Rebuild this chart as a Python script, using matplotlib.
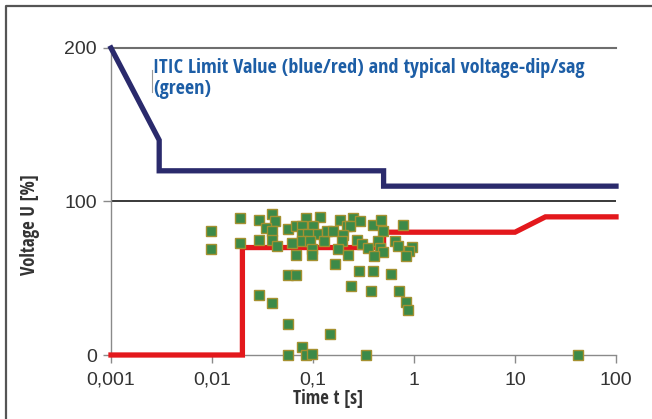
import matplotlib
matplotlib.use("Agg")
import matplotlib.pyplot as plt
from matplotlib.lines import Line2D
from matplotlib import font_manager as fm

# ITIC limit curves
blue_t = [0.001, 0.003, 0.003, 0.5, 0.5, 100]
blue_u = [200, 140, 120, 120, 110, 110]
red_t = [0.001, 0.02, 0.02, 0.5, 0.5, 10, 20, 100]
red_u = [0, 0, 70, 70, 80, 80, 90, 90]

# typical voltage dips/sags
sag_t = [0.0097, 0.0097, 0.019, 0.019, 0.029, 0.029, 0.039, 0.042, 0.034, 0.039,
         0.039, 0.044, 0.057, 0.068, 0.062, 0.068, 0.057, 0.068, 0.029, 0.039,
         0.057, 0.077, 0.057, 0.086, 0.098, 0.147, 0.333, 0.085, 0.117, 0.078,
         0.099, 0.078, 0.109, 0.090, 0.077, 0.094, 0.128, 0.097, 0.098, 0.137,
         0.157, 0.184, 0.247, 0.292, 0.216, 0.232, 0.200, 0.192, 0.178, 0.224,
         0.165, 0.27, 0.309, 0.353, 0.39, 0.466, 0.493, 0.436, 0.46, 0.497,
         0.406, 0.285, 0.39, 0.592, 0.239, 0.372, 0.783, 0.649, 0.692, 0.955,
         0.902, 0.824, 0.718, 0.834, 0.873, 42]
sag_u = [81, 69, 89, 73, 88, 75, 92, 87, 83, 81,
         75, 71, 82, 84, 73, 65, 52, 52, 39, 34,
         20, 5, 0, 0, 0.5, 14, 0, 89, 90, 84,
         84, 79, 79, 79, 74, 74, 74, 69, 65, 81,
         81, 88, 89, 87, 84, 84, 78.5, 74, 69, 65,
         59, 75, 72, 69.5, 84.5, 88, 81, 74, 69.5, 67,
         64.5, 55, 55, 53, 45, 42, 85, 74, 71, 70.5,
         68, 64.5, 42, 34.5, 29.6, 0]

x_ticks = [0.001, 0.01, 0.1, 1, 10, 100]
x_labels = ["0,001", "0,01", "0,1", "1", "10", "100"]
y_ticks = [0, 100, 200]

plt.rcParams["font.family"] = ["Liberation Sans", "DejaVu Sans"]


def pick_condensed_bold():
    """Find a bold condensed/narrow sans font if one is installed."""
    best = None
    for f in fm.fontManager.ttflist:
        nm = (f.name + " " + f.fname).lower()
        cond = (("narrow" in nm) or ("condensed" in nm) or
                (str(f.stretch).lower() in ("condensed", "semi-condensed",
                                            "extra-condensed", "ultra-condensed")))
        w = f.weight if isinstance(f.weight, int) else (700 if "bold" in str(f.weight) else 400)
        if cond and w >= 600 and "mono" not in nm and "serif" not in nm.replace("sans", ""):
            score = 0
            if "liberation" in nm:
                score = 5
            elif "roboto" in nm or "open" in nm:
                score = 4
            elif "noto" in nm:
                score = 3
            elif "dejavu" in nm:
                score = 2
            else:
                score = 1
            if best is None or score > best[0]:
                best = (score, f.fname)
    if best:
        return fm.FontProperties(fname=best[1])
    return fm.FontProperties(family=["Roboto", "Lato", "DejaVu Sans"], weight="bold")


label_fp = pick_condensed_bold()

fig = plt.figure(figsize=(6.52, 4.19), dpi=100)
ax = fig.add_axes([111/652, 1-355/419, (616-111)/652, (355-48)/419])
ax.set_xscale("log")
ax.set_xlim(0.001, 100)
ax.set_ylim(0, 200)

ax.axhline(200, color="#6e6e6e", lw=1.5, zorder=1, clip_on=False)
ax.axhline(100, color="#2a2a2a", lw=1.3, zorder=1)

ax.plot(blue_t, blue_u, color="#2a2a6c", lw=3.8, solid_joinstyle="miter",
        zorder=3, clip_on=False)
ax.plot(red_t, red_u, color="#e3181c", lw=3.8, solid_joinstyle="miter",
        zorder=3, clip_on=False)
ax.plot(sag_t, sag_u, linestyle="none", marker="s", markersize=6.6,
        markerfacecolor="#3c8a48", markeredgecolor="#a59130",
        markeredgewidth=1.0, zorder=4, clip_on=False)

for s in ["top", "right"]:
    ax.spines[s].set_visible(False)
for s in ["left", "bottom"]:
    ax.spines[s].set_color("#8a8a8a")
    ax.spines[s].set_linewidth(1.0)

ax.set_xticks(x_ticks)
ax.set_xticklabels(x_labels)
ax.xaxis.set_minor_locator(matplotlib.ticker.NullLocator())
ax.set_yticks(y_ticks)
ax.tick_params(axis="both", colors="#8a8a8a", labelcolor="#333333",
               labelsize=14, direction="out", length=6, width=1.0)
ax.tick_params(axis="x", pad=6)
ax.tick_params(axis="y", pad=4)

xl = fig.text(328/652, 1-399/419, "Time t [s]", ha="center", va="center",
              fontproperties=label_fp, color="#333333")
yl = fig.text(30/652, 1-225/419, "Voltage U [%]", ha="center", va="center",
              rotation=90, fontproperties=label_fp, color="#333333")

title_col = "#1d5ea6"
t1 = fig.text(153/652, 1-68/419, "ITIC Limit Value (blue/red) and typical voltage-dip/sag",
              ha="left", va="center", fontproperties=label_fp, color=title_col)
t2 = fig.text(153/652, 1-89/419, "(green)", ha="left", va="center",
              fontproperties=label_fp, color=title_col)

# fit text lengths to the reference
renderer = fig.canvas.get_renderer()


def fit(txt, target, base=12.0, cap=None):
    txt.set_fontsize(base)
    bb = txt.get_window_extent(renderer)
    length = max(bb.width, bb.height) if txt.get_rotation() else bb.width
    size = base * target / length
    if cap:
        size = min(size, cap)
    txt.set_fontsize(size)
    return size


s_title = fit(t1, 457, cap=14.5)
t2.set_fontsize(s_title)
fit(xl, 74, cap=13.5)
fit(yl, 115, cap=13.5)

# cursor artifact and frame border
fig.add_artist(Line2D([152/652, 152/652], [1-70/419, 1-92/419],
                      color="#9a9a9a", lw=0.8))
fig.add_artist(Line2D([6/652, 6/652, 1.0], [0.0, 1-6/419, 1-6/419],
                      color="#555555", lw=1.6))

fig.savefig("out.png", dpi=100)
